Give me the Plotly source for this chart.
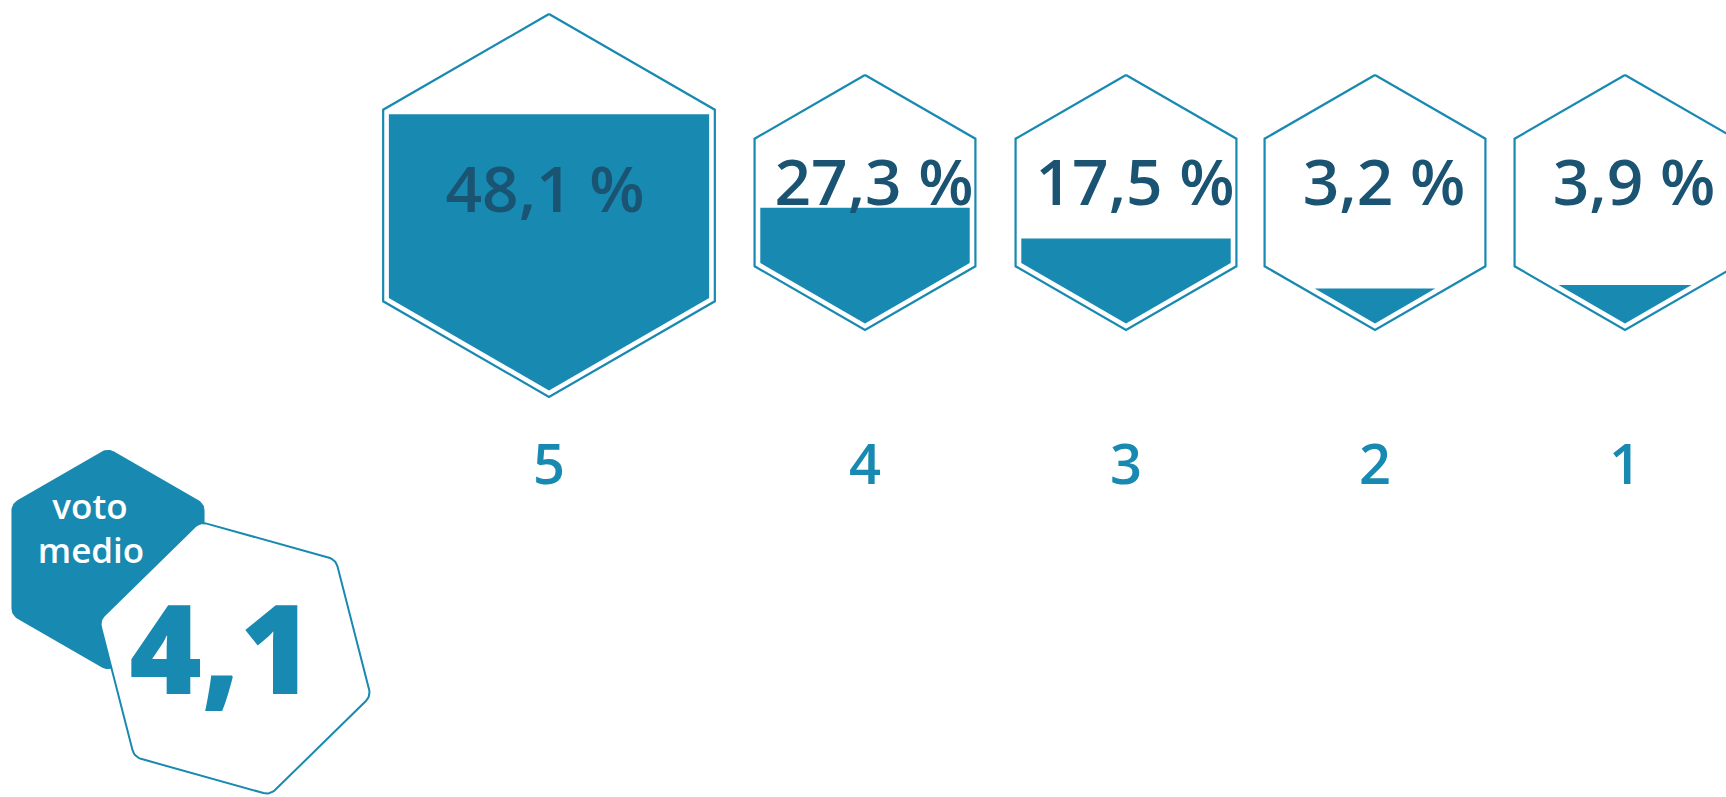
import numpy as np
import plotly.graph_objects as go

# === Dati ===
voti = ["5", "4", "3", "2", "1"]
quote = [48.1, 27.3, 17.5, 3.2, 3.9]   # % di risposte per voto
voto_medio = 4.1
titolo_medio = ["voto", "medio"]

# === Stile ===
BLU = "#1889B0"
BLU_SCURO = "#1B5473"
FONT = "Open Sans"
W, H = 1726, 797
FONDO_SCALA = 58.0   # quota (%) che riempirebbe l'intero esagono

# posizioni degli esagoni in pixel
cx = [549, 865, 1126, 1375, 1625]
cy = [205.5, 202.5, 202.5, 202.5, 202.5]
raggi = [191.5, 127.5, 127.5, 127.5, 127.5]
GAP = 6.6


def vertici(x0, y0, r, rot=90):
    ang = np.radians(rot + 60 * np.arange(6))
    return list(zip(x0 + r * np.cos(ang), y0 - r * np.sin(ang)))


def esagono_arrotondato(x0, y0, r, rot=90, rc=12, n=10):
    r_in = r - rc / np.cos(np.pi / 6)
    xs, ys = [], []
    for a in np.radians(rot + 60 * np.arange(6)):
        vx, vy = x0 + r_in * np.cos(a), y0 - r_in * np.sin(a)
        t = np.linspace(a - np.pi / 6, a + np.pi / 6, n)
        xs += list(vx + rc * np.cos(t))
        ys += list(vy - rc * np.sin(t))
    return xs + [xs[0]], ys + [ys[0]]


def taglia(pts, L):
    # tiene la parte del poligono sotto la linea y = L (schermo)
    out = []
    for i in range(len(pts)):
        p, q = pts[i], pts[(i + 1) % len(pts)]
        pin, qin = p[1] >= L, q[1] >= L
        if pin:
            out.append(p)
        if pin != qin:
            t = (L - p[1]) / (q[1] - p[1])
            out.append((p[0] + t * (q[0] - p[0]), L))
    return out


def area(pts):
    if len(pts) < 3:
        return 0.0
    x = np.array([p[0] for p in pts])
    y = np.array([p[1] for p in pts])
    return 0.5 * abs(np.dot(x, np.roll(y, -1)) - np.dot(y, np.roll(x, -1)))


def riempimento(pts, quota):
    obiettivo = min(quota / FONDO_SCALA, 1.0) * area(pts)
    ys = [p[1] for p in pts]
    lo, hi = min(ys), max(ys)
    for _ in range(60):
        mid = (lo + hi) / 2
        if area(taglia(pts, mid)) > obiettivo:
            lo = mid
        else:
            hi = mid
    return taglia(pts, (lo + hi) / 2)


def chiudi(pts):
    return [p[0] for p in pts] + [pts[0][0]], [p[1] for p in pts] + [pts[0][1]]


fig = go.Figure()

# === Esagoni con riempimento ===
for i, q in enumerate(quote):
    ox, oy = chiudi(vertici(cx[i], cy[i], raggi[i]))
    fig.add_trace(go.Scatter(x=ox, y=oy, mode="lines",
                             line=dict(color=BLU, width=2.2), hoverinfo="skip"))
    interno = vertici(cx[i], cy[i], raggi[i] - GAP)
    fx, fy = chiudi(riempimento(interno, q))
    fig.add_trace(go.Scatter(x=fx, y=fy, mode="lines", fill="toself",
                             fillcolor=BLU, line=dict(width=0), hoverinfo="skip"))

# etichette percentuali
lab_x = [cx[0] - 4] + [x + 9 for x in cx[1:]]
lab_y = [cy[0] - 10] + [y - 14 for y in cy[1:]]
fig.add_trace(go.Scatter(
    x=lab_x, y=lab_y, mode="text",
    text=[f"{q:.1f}".replace(".", ",") + " %" for q in quote],
    textfont=dict(family=FONT, size=64, color=BLU_SCURO, weight=650),
    hoverinfo="skip"))

# voti sotto gli esagoni
fig.add_trace(go.Scatter(
    x=cx, y=[470] * len(voti), mode="text", text=voti,
    textfont=dict(family=FONT, size=56, color=BLU, weight=600),
    hoverinfo="skip"))

# === Voto medio ===
bx, by = esagono_arrotondato(108, 559.5, 111.5, rot=90, rc=12)
fig.add_trace(go.Scatter(x=bx, y=by, mode="lines", fill="toself",
                         fillcolor=BLU, line=dict(width=0), hoverinfo="skip"))
wx, wy = esagono_arrotondato(235, 658.3, 141, rot=104.4, rc=12)
fig.add_trace(go.Scatter(x=wx, y=wy, mode="lines", fill="toself",
                         fillcolor="white", line=dict(color=BLU, width=2),
                         hoverinfo="skip"))

fig.add_trace(go.Scatter(
    x=[90, 91], y=[510, 554], mode="text", text=titolo_medio,
    textfont=dict(family=FONT, size=35, color="white", weight=600),
    hoverinfo="skip"))
fig.add_trace(go.Scatter(
    x=[221], y=[663], mode="text",
    text=[f"{voto_medio:.1f}".replace(".", ",")],
    textfont=dict(family=FONT, size=124, color=BLU, weight=800),
    hoverinfo="skip"))

fig.update_layout(
    width=W, height=H,
    margin=dict(l=0, r=0, t=0, b=0),
    paper_bgcolor="white", plot_bgcolor="white",
    showlegend=False,
    xaxis=dict(range=[0, W], visible=False, fixedrange=True),
    yaxis=dict(range=[H, 0], visible=False, fixedrange=True),
)

# niente margine del body, cosi' il grafico riempie la finestra
fig.write_html("out.html",
               config={"displayModeBar": False},
               post_script="document.body.style.margin='0';"
                           "document.body.style.overflow='hidden';")
